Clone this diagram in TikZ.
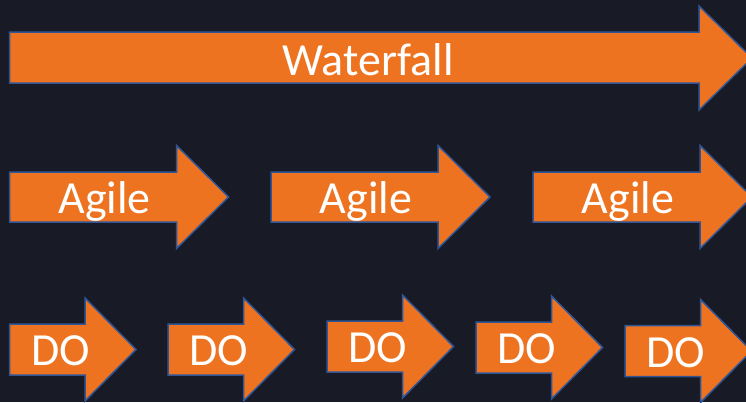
\documentclass[tikz,border=0pt]{standalone}
\usepackage{fontspec}
\setmainfont{Carlito}
\usepackage{xcolor}
\usepackage{tikz}

\definecolor{slidebg}{HTML}{181B26}
\definecolor{arroworange}{HTML}{ED7320}
\definecolor{arrowblue}{HTML}{2F5597}

\begin{document}
\begin{tikzpicture}[
        x=1pt, y=-1pt,
        % Define styles for the arrow shapes and their labels
        arrowshape/.style={
            draw=arrowblue,
            fill=arroworange,
            line width=1.5pt,
            line join=miter
        },
        label/.style={
            text=white,
            anchor=base,
            inner sep=0pt,
            font=\fontsize{46}{50}\selectfont
        }
    ]

    % Background of the slide
    \fill[slidebg] (0,0) rectangle (746,402);
    \useasboundingbox (0,0) rectangle (746,402);

    % Waterfall: one long arrow
    \draw[arrowshape] (9.5,32) -- (699,32) -- (699,6) -- (752,58)
        -- (699,110) -- (699,83) -- (9.5,83) -- cycle;
    \node[label] (waterfall) at (368,75) {Waterfall};

    % Agile: three arrows
    \foreach \i/\l in {1/9.5,2/271,3/533} {
        \draw[arrowshape] (\l,172) -- (\l+167,172) -- (\l+167,145.5) -- (\l+219,197)
            -- (\l+167,248.5) -- (\l+167,222) -- (\l,222) -- cycle;
        \node[label] (agile\i) at (\l+95,213) {Agile};
    }

    % DO: five small arrows
    \foreach \i/\l/\c in {1/9.5/349.5,2/168/349.5,3/327/346.5,4/476/347.5,5/625/351} {
        \draw[arrowshape] (\l,\c-25.5) -- (\l+75.5,\c-25.5) -- (\l+75.5,\c-51.5) -- (\l+126.5,\c)
            -- (\l+75.5,\c+51.5) -- (\l+75.5,\c+25.5) -- (\l,\c+25.5) -- cycle;
        \node[label] (do\i) at (\l+51,\c+16) {DO};
    }

\end{tikzpicture}
\end{document}
